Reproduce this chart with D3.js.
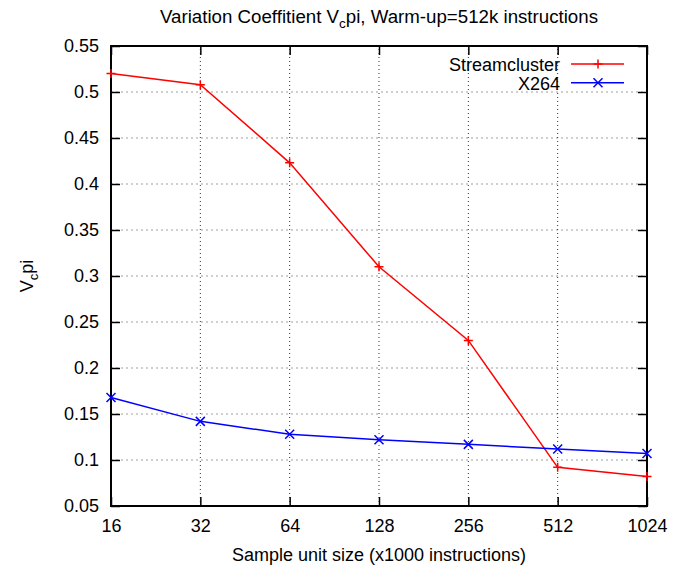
<!DOCTYPE html>
<html>
<head>
<meta charset="utf-8">
<script src="https://cdn.jsdelivr.net/npm/d3@7"></script>
<style>
  body { margin: 0; background: #fff; }
  text { font-family: "Liberation Sans", Arial, sans-serif; fill: #000; }
</style>
</head>
<body>
<svg id="chart" width="673" height="567"></svg>
<script>
// Data
const sizes = [16, 32, 64, 128, 256, 512, 1024];
const streamcluster = [0.520, 0.508, 0.423, 0.310, 0.230, 0.092, 0.082];
const x264 = [0.168, 0.142, 0.128, 0.122, 0.117, 0.112, 0.107];
const yTicks = [0.05, 0.1, 0.15, 0.2, 0.25, 0.3, 0.35, 0.4, 0.45, 0.5, 0.55];

const margin = {left: 111, right: 26, top: 46, bottom: 61};
const width = 673, height = 567;
const fontSize = 18;

const svg = d3.select("#chart");

const x = d3.scaleLog().base(2).domain([16, 1024]).range([margin.left, width - margin.right]);
const y = d3.scaleLinear().domain([0.05, 0.55]).range([height - margin.bottom, margin.top]);

/**
 * Grid lines
 */
const grid = svg.append("g");
grid.selectAll(".hgrid").data(yTicks.slice(1, -1)).enter()
  .append("line")
  .attr("x1", x(16)).attr("x2", x(1024))
  .attr("y1", d => y(d)).attr("y2", d => y(d))
  .attr("stroke", "#a0a0a0").attr("stroke-width", 1.2)
  .attr("stroke-dasharray", "2,3");
grid.selectAll(".vgrid").data(sizes.slice(1, -1)).enter()
  .append("line")
  .attr("x1", d => x(d)).attr("x2", d => x(d))
  .attr("y1", y(0.05)).attr("y2", y(0.55))
  .attr("stroke", "#333").attr("stroke-width", 1)
  .attr("stroke-dasharray", "1,3");

/**
 * Axes (gnuplot style: inward ticks, mirrored)
 */
const fmt = d => String(+d.toFixed(2));

svg.append("g")
  .attr("transform", "translate(" + margin.left + ",0)")
  .call(d3.axisLeft(y).tickValues(yTicks).tickFormat(fmt).tickSize(-9).tickPadding(12))
  .call(g => g.select(".domain").remove())
  .call(g => g.selectAll("text").attr("font-size", fontSize).attr("font-family", "Liberation Sans, Arial, sans-serif"));

svg.append("g")
  .attr("transform", "translate(" + (width - margin.right) + ",0)")
  .call(d3.axisRight(y).tickValues(yTicks).tickSize(-9).tickFormat(""))
  .call(g => g.select(".domain").remove());

svg.append("g")
  .attr("transform", "translate(0," + (height - margin.bottom) + ")")
  .call(d3.axisBottom(x).tickValues(sizes).tickFormat(d3.format("d")).tickSize(-9).tickPadding(13))
  .call(g => g.select(".domain").remove())
  .call(g => g.selectAll("text").attr("font-size", fontSize).attr("font-family", "Liberation Sans, Arial, sans-serif"));

svg.append("g")
  .attr("transform", "translate(0," + margin.top + ")")
  .call(d3.axisTop(x).tickValues(sizes).tickSize(-9).tickFormat(""))
  .call(g => g.select(".domain").remove());

svg.selectAll(".tick line").attr("stroke", "#000").attr("stroke-width", 1.5);

svg.append("rect")
  .attr("x", x(16)).attr("y", y(0.55))
  .attr("width", x(1024) - x(16)).attr("height", y(0.05) - y(0.55))
  .attr("fill", "none").attr("stroke", "#000").attr("stroke-width", 2);

/**
 * Series
 */
const line = d3.line().x(d => x(d[0])).y(d => y(d[1]));

function plusPath(cx, cy, r) {
  return "M" + (cx - r) + "," + cy + "H" + (cx + r) + "M" + cx + "," + (cy - r) + "V" + (cy + r);
}
function crossPath(cx, cy, r) {
  return "M" + (cx - r) + "," + (cy - r) + "L" + (cx + r) + "," + (cy + r) +
         "M" + (cx - r) + "," + (cy + r) + "L" + (cx + r) + "," + (cy - r);
}

const series = [
  {name: "Streamcluster", values: streamcluster, color: "#ff0000", marker: plusPath},
  {name: "X264", values: x264, color: "#0000ff", marker: crossPath}
];

series.forEach((s, i) => {
  const pts = sizes.map((v, j) => [v, s.values[j]]);
  svg.append("path")
    .attr("d", line(pts))
    .attr("fill", "none").attr("stroke", s.color).attr("stroke-width", 1.5);
  svg.append("path")
    .attr("d", pts.map(p => s.marker(x(p[0]), y(p[1]), 4.5)).join(""))
    .attr("fill", "none").attr("stroke", s.color).attr("stroke-width", 1.5);

  // Legend
  const ly = 64 + i * 18.7;
  svg.append("text")
    .attr("x", 560).attr("y", ly + 7)
    .attr("text-anchor", "end").attr("font-size", fontSize)
    .text(s.name);
  svg.append("line")
    .attr("x1", 571).attr("x2", 624).attr("y1", ly).attr("y2", ly)
    .attr("stroke", s.color).attr("stroke-width", 1.5);
  svg.append("path")
    .attr("d", s.marker(598, ly, 4.5))
    .attr("fill", "none").attr("stroke", s.color).attr("stroke-width", 1.5);
});

/**
 * Titles
 */
const cx = (x(16) + x(1024)) / 2;

const title = svg.append("text")
  .attr("x", cx).attr("y", 23)
  .attr("text-anchor", "middle").attr("font-size", 18.7);
title.append("tspan").text("Variation Coeffitient V");
title.append("tspan").attr("font-size", 13.5).attr("dy", 5).text("c");
title.append("tspan").attr("dy", -5).text("pi, Warm-up=512k instructions");

svg.append("text")
  .attr("x", cx).attr("y", 561)
  .attr("text-anchor", "middle").attr("font-size", fontSize)
  .text("Sample unit size (x1000 instructions)");

const ylab = svg.append("text")
  .attr("transform", "translate(33," + ((y(0.05) + y(0.55)) / 2) + ") rotate(-90)")
  .attr("text-anchor", "middle").attr("font-size", fontSize);
ylab.append("tspan").text("V");
ylab.append("tspan").attr("font-size", 13).attr("dy", 5).text("c");
ylab.append("tspan").attr("dy", -5).text("pi");
</script>
</body>
</html>
